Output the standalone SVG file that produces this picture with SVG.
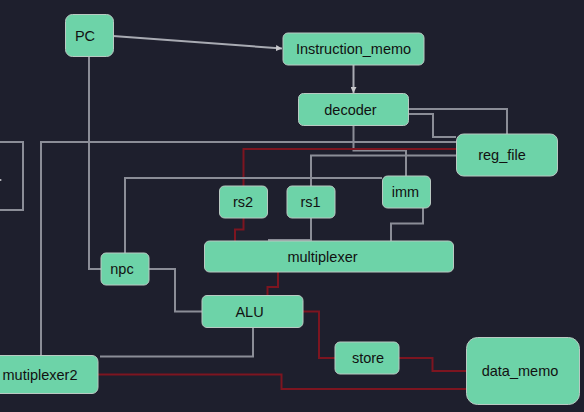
<svg xmlns="http://www.w3.org/2000/svg" width="584" height="412" viewBox="0 0 584 412">
<defs>
<style>
.n rect{fill:#6dd3a8;stroke:#b9c9c2;stroke-width:1}
.n text{font-family:"Liberation Sans",Arial,sans-serif;font-size:14.5px;fill:#111;text-anchor:middle;dominant-baseline:central}
.g{fill:none;stroke:#8b8d97;stroke-width:2}
.r{fill:none;stroke:#7d1520;stroke-width:2}
</style>
<marker id="ah" viewBox="0 0 10 10" refX="10" refY="5" markerWidth="6" markerHeight="6" markerUnits="userSpaceOnUse" orient="auto">
<path d="M0,0 L10,5 L0,10 z" fill="#c8c8cc"/>
</marker>
</defs>
<rect width="584" height="412" fill="#1e1f2d"/>
<g id="connectors">
<path class="g" d="M0,142 H23 V210 H0"/>
<polygon points="-6,176 2,180 -6,184" fill="#e0e0e4"/>
<path class="g" style="stroke:#a9abb3" d="M113,36 L282,48.5" marker-end="url(#ah)"/>
<path class="g" style="stroke:#a9abb3" d="M353.5,65 V93" marker-end="url(#ah)"/>
<path class="g" d="M409,109 H507 V134"/>
<path class="g" d="M409,114 H433 V137 H456"/>
<path class="g" d="M353.5,125 V150.5 H406 V176"/>
<path class="g" d="M456,142 H41 V355"/>
<path class="r" d="M456,149 H243.5 V186"/>
<path class="g" d="M456,155.5 H311 V186"/>
<path class="g" d="M382,178 H125 V253"/>
<path class="g" d="M89,56 V269 H101"/>
<path class="r" d="M243.5,218 V229.5 H235 V241"/>
<path class="g" d="M311,218 V240 H268"/>
<path class="g" d="M423,208 V223.5 H391 V241"/>
<path class="r" d="M278,272 V287 H267.5 V295"/>
<path class="g" d="M149,269 H175 V311.5 H202"/>
<path class="g" d="M253,327 V356.5 H100"/>
<path class="r" d="M98,374.5 H281.5 V389 H466"/>
<path class="r" d="M303,311.5 H319 V358 H335"/>
<path class="r" d="M399,358 H432.5 V371 H466"/>
</g>
<g id="PC" class="n"><rect x="65.5" y="14.5" width="48" height="42" rx="7"/><text x="85" y="36">PC</text></g>
<g id="Instruction_memo" class="n"><rect x="283" y="33" width="141" height="32" rx="5"/><text x="353.5" y="49">Instruction_memo</text></g>
<g id="decoder" class="n"><rect x="298.5" y="93.5" width="110" height="32" rx="5"/><text x="350.5" y="109.5">decoder</text></g>
<g id="reg_file" class="n"><rect x="456.5" y="134" width="101" height="42" rx="7"/><text x="502" y="155">reg_file</text></g>
<g id="rs2" class="n"><rect x="219.5" y="186" width="48" height="32" rx="5"/><text x="243" y="202">rs2</text></g>
<g id="rs1" class="n"><rect x="287" y="186" width="48" height="32" rx="5"/><text x="310.5" y="202">rs1</text></g>
<g id="imm" class="n"><rect x="382.5" y="176" width="48" height="32" rx="5"/><text x="405.5" y="192">imm</text></g>
<g id="multiplexer" class="n"><rect x="204.5" y="241" width="249" height="31" rx="5"/><text x="322.5" y="257">multiplexer</text></g>
<g id="npc" class="n"><rect x="101" y="253" width="48" height="32" rx="5"/><text x="122" y="269">npc</text></g>
<g id="ALU" class="n"><rect x="202" y="295.5" width="101" height="32" rx="5"/><text x="249.5" y="312">ALU</text></g>
<g id="mutiplexer2" class="n"><rect x="-18" y="355.5" width="116" height="38" rx="6"/><text x="40" y="375">mutiplexer2</text></g>
<g id="store" class="n"><rect x="335" y="342" width="64" height="32" rx="5"/><text x="368" y="358">store</text></g>
<g id="data_memo" class="n"><rect x="466.5" y="337.5" width="113" height="67" rx="11"/><text x="520" y="371">data_memo</text></g>
</svg>
